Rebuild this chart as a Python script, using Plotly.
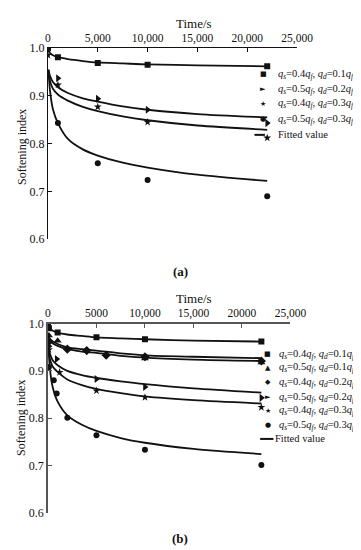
import plotly.graph_objects as go

W, H = 361, 550

# ---------------- data: panel (a) ----------------
a_sq_t = [0, 1000, 5000, 10000, 22000]
a_sq_y = [1.0, 0.981, 0.969, 0.965, 0.962]
a_tri_t = [0, 1000, 5000, 10000, 22000]
a_tri_y = [1.0, 0.937, 0.894, 0.871, 0.843]
a_star_t = [0, 1000, 5000, 10000, 22000]
a_star_y = [0.985, 0.923, 0.877, 0.845, 0.812]
a_circ_t = [0, 1000, 5000, 10000, 22000]
a_circ_y = [1.0, 0.843, 0.759, 0.724, 0.690]

fit_a_t = [50, 200, 500, 1000, 2000, 3500, 5000, 7500, 10000, 15000, 22000]
fit_a_sq = [0.995, 0.990, 0.985, 0.981, 0.977, 0.973, 0.970, 0.968, 0.966, 0.964, 0.962]
fit_a_tri = [0.955, 0.942, 0.929, 0.918, 0.906, 0.895, 0.888, 0.878, 0.871, 0.862, 0.855]
fit_a_star = [0.952, 0.932, 0.915, 0.903, 0.890, 0.877, 0.868, 0.857, 0.849, 0.838, 0.829]
fit_a_circ = [0.955, 0.912, 0.872, 0.843, 0.810, 0.788, 0.775, 0.760, 0.750, 0.735, 0.722]

# ---------------- data: panel (b) ----------------
b_sq_t = [0, 100, 1000, 5000, 10000, 22000]
b_sq_y = [1.0, 0.990, 0.981, 0.971, 0.967, 0.962]
b_tup_t = [100, 1000, 10000, 22000]
b_tup_y = [0.975, 0.964, 0.926, 0.918]
b_dia_t = [100, 2000, 4000, 6000, 10000, 22000]
b_dia_y = [0.962, 0.946, 0.943, 0.933, 0.930, 0.921]
b_tri_t = [100, 900, 5000, 10000, 22000]
b_tri_y = [0.952, 0.925, 0.883, 0.866, 0.843]
b_star_t = [100, 1200, 5000, 10000, 22000]
b_star_y = [0.945, 0.897, 0.858, 0.844, 0.823]
b_circ_t = [100, 600, 900, 2000, 5000, 10000, 22000]
b_circ_y = [0.908, 0.880, 0.852, 0.801, 0.764, 0.733, 0.701]

fit_b_t = [50, 200, 500, 1000, 2000, 3500, 5000, 7500, 10000, 15000, 22000]
fit_b_sq = [0.995, 0.990, 0.985, 0.981, 0.977, 0.974, 0.971, 0.969, 0.967, 0.964, 0.962]
fit_b_mid1 = [0.975, 0.968, 0.962, 0.957, 0.950, 0.946, 0.943, 0.937, 0.933, 0.930, 0.927]
fit_b_mid2 = [0.972, 0.964, 0.958, 0.953, 0.946, 0.941, 0.938, 0.932, 0.928, 0.924, 0.921]
fit_b_tri = [0.955, 0.937, 0.922, 0.912, 0.900, 0.891, 0.885, 0.878, 0.872, 0.863, 0.854]
fit_b_star = [0.950, 0.925, 0.909, 0.898, 0.882, 0.870, 0.862, 0.853, 0.846, 0.838, 0.831]
fit_b_circ = [0.955, 0.905, 0.865, 0.835, 0.806, 0.786, 0.773, 0.758, 0.748, 0.735, 0.724]

# ---------------- ticks / labels ----------------
x_tickvals = [0, 5000, 10000, 15000, 20000, 25000]
x_ticktext_a = ["0", "5,000", "10,000", "15,000", "20,000", "25,000"]
x_ticktext_b = ["0", "5000", "10,000", "15,000", "20000", "25,000"]
y_tickvals = [0.6, 0.7, 0.8, 0.9, 1.0]
y_ticktext = ["0.6", "0.7", "0.8", "0.9", "1.0"]

legend_a = [("■", "<i>q<sub>s</sub></i>=0.4<i>q<sub>f</sub></i>, <i>q<sub>d</sub></i>=0.1<i>q<sub>f</sub></i>"),
            ("►", "<i>q<sub>s</sub></i>=0.5<i>q<sub>f</sub></i>, <i>q<sub>d</sub></i>=0.2<i>q<sub>f</sub></i>"),
            ("★", "<i>q<sub>s</sub></i>=0.4<i>q<sub>f</sub></i>, <i>q<sub>d</sub></i>=0.3<i>q<sub>f</sub></i>"),
            ("●", "<i>q<sub>s</sub></i>=0.5<i>q<sub>f</sub></i>, <i>q<sub>d</sub></i>=0.3<i>q<sub>f</sub></i>")]
legend_b = [("■", "<i>q<sub>s</sub></i>=0.4<i>q<sub>f</sub></i>, <i>q<sub>d</sub></i>=0.1<i>q<sub>f</sub></i>"),
            ("▲", "<i>q<sub>s</sub></i>=0.5<i>q<sub>f</sub></i>, <i>q<sub>d</sub></i>=0.1<i>q<sub>f</sub></i>"),
            ("◆", "<i>q<sub>s</sub></i>=0.4<i>q<sub>f</sub></i>, <i>q<sub>d</sub></i>=0.2<i>q<sub>f</sub></i>"),
            ("►", "<i>q<sub>s</sub></i>=0.5<i>q<sub>f</sub></i>, <i>q<sub>d</sub></i>=0.2<i>q<sub>f</sub></i>"),
            ("★", "<i>q<sub>s</sub></i>=0.4<i>q<sub>f</sub></i>, <i>q<sub>d</sub></i>=0.3<i>q<sub>f</sub></i>"),
            ("●", "<i>q<sub>s</sub></i>=0.5<i>q<sub>f</sub></i>, <i>q<sub>d</sub></i>=0.3<i>q<sub>f</sub></i>")]

SERIF = "Liberation Serif"
BLACK = "#111111"

fig = go.Figure()

def pts(t, y, sym, size, xa, ya):
    fig.add_trace(go.Scatter(x=t, y=y, mode="markers", xaxis=xa, yaxis=ya,
                             marker=dict(symbol=sym, size=size, color=BLACK, line=dict(width=0)),
                             showlegend=False, hoverinfo="skip"))

def fit(t, y, xa, ya):
    fig.add_trace(go.Scatter(x=t, y=y, mode="lines", xaxis=xa, yaxis=ya,
                             line=dict(color=BLACK, width=1.8, shape="spline", smoothing=0.8),
                             showlegend=False, hoverinfo="skip"))

# panel (a)
for f in (fit_a_sq, fit_a_tri, fit_a_star, fit_a_circ):
    fit(fit_a_t, f, "x", "y")
pts(a_sq_t, a_sq_y, "square", 6, "x", "y")
pts(a_tri_t, a_tri_y, "triangle-right", 7, "x", "y")
pts(a_star_t, a_star_y, "star", 6, "x", "y")
pts(a_circ_t, a_circ_y, "circle", 6, "x", "y")

# panel (b)
for f in (fit_b_sq, fit_b_mid1, fit_b_mid2, fit_b_tri, fit_b_star, fit_b_circ):
    fit(fit_b_t, f, "x2", "y2")
pts(b_sq_t, b_sq_y, "square", 6, "x2", "y2")
pts(b_tup_t, b_tup_y, "triangle-up", 7, "x2", "y2")
pts(b_dia_t, b_dia_y, "diamond", 7, "x2", "y2")
pts(b_tri_t, b_tri_y, "triangle-right", 7, "x2", "y2")
pts(b_star_t, b_star_y, "star", 6, "x2", "y2")
pts(b_circ_t, b_circ_y, "circle", 6, "x2", "y2")

def px_x(p):
    return p / W

def px_y(p):
    return 1 - p / H

xtickfont = dict(family=SERIF, size=11.5, color=BLACK)
ytickfont = dict(family=SERIF, size=12, color=BLACK)

def xaxis(dom, anchor, ticktext, lc, lw):
    return dict(domain=dom, anchor=anchor, side="top", range=[0, 25000],
                tickvals=x_tickvals, ticktext=ticktext, ticks="inside", ticklen=4,
                tickwidth=1, tickcolor=lc, showline=True, linecolor=lc, linewidth=lw,
                showgrid=False, zeroline=False, tickfont=xtickfont)

def yaxis(dom, anchor, lc, lw):
    return dict(domain=dom, anchor=anchor, range=[0.6, 1.0],
                tickvals=y_tickvals, ticktext=y_ticktext, ticks="inside", ticklen=4,
                tickwidth=1, tickcolor=lc, showline=True, linecolor=lc, linewidth=lw,
                showgrid=False, zeroline=False, tickfont=ytickfont)

annotations = []
shapes = []

def ann(x, y, text, size=12, xanchor="center", family=SERIF, angle=0):
    annotations.append(dict(x=x, y=y, xref="paper", yref="paper", text=text, showarrow=False,
                            xanchor=xanchor, yanchor="middle", textangle=angle,
                            font=dict(family=family, size=size, color=BLACK)))

# titles
ann(px_x(193), px_y(9), "Time/s", 13)
ann(px_x(193), px_y(291), "Time/s", 13)
ann(px_x(11), px_y(135), "Softening index", 12, angle=-90)
ann(px_x(11), px_y(413), "Softening index", 12, angle=-90)
ann(px_x(179), px_y(263), "<b>(a)</b>", 13)
ann(px_x(178), px_y(537), "<b>(b)</b>", 13)

# legend (a)
rows_a = [61, 76, 91, 107]
for (sym, txt), r in zip(legend_a, rows_a):
    ann(px_x(266), px_y(r), sym, 7, family="DejaVu Sans")
    ann(px_x(280), px_y(r), txt, 10.5, xanchor="left")
ann(px_x(280), px_y(123), "Fitted value", 10.5, xanchor="left")
shapes.append(dict(type="line", xref="paper", yref="paper", x0=px_x(257), x1=px_x(268),
                   y0=px_y(123), y1=px_y(123), line=dict(color=BLACK, width=2)))

# legend (b)
rows_b = [348, 362, 377, 392, 406, 421]
for (sym, txt), r in zip(legend_b, rows_b):
    ann(px_x(271), px_y(r), sym, 7, family="DejaVu Sans")
    ann(px_x(281), px_y(r), txt, 10.5, xanchor="left")
ann(px_x(277), px_y(435), "Fitted value", 10.5, xanchor="left")
shapes.append(dict(type="line", xref="paper", yref="paper", x0=px_x(263), x1=px_x(277),
                   y0=px_y(435), y1=px_y(435), line=dict(color=BLACK, width=2)))

fig.update_layout(
    width=W, height=H, autosize=False,
    margin=dict(l=0, r=0, t=0, b=0),
    paper_bgcolor="white", plot_bgcolor="white",
    showlegend=False,
    xaxis=xaxis([px_x(39), px_x(302)], "y", x_ticktext_a, BLACK, 1.2),
    yaxis=yaxis([px_y(230), px_y(34)], "x", BLACK, 1.2),
    xaxis2=xaxis([px_x(39), px_x(295)], "y2", x_ticktext_b, "#555555", 1.8),
    yaxis2=yaxis([px_y(510.7), px_y(316.7)], "x2", "#555555", 1.8),
    annotations=annotations, shapes=shapes,
)

fig.write_html("out.html")
